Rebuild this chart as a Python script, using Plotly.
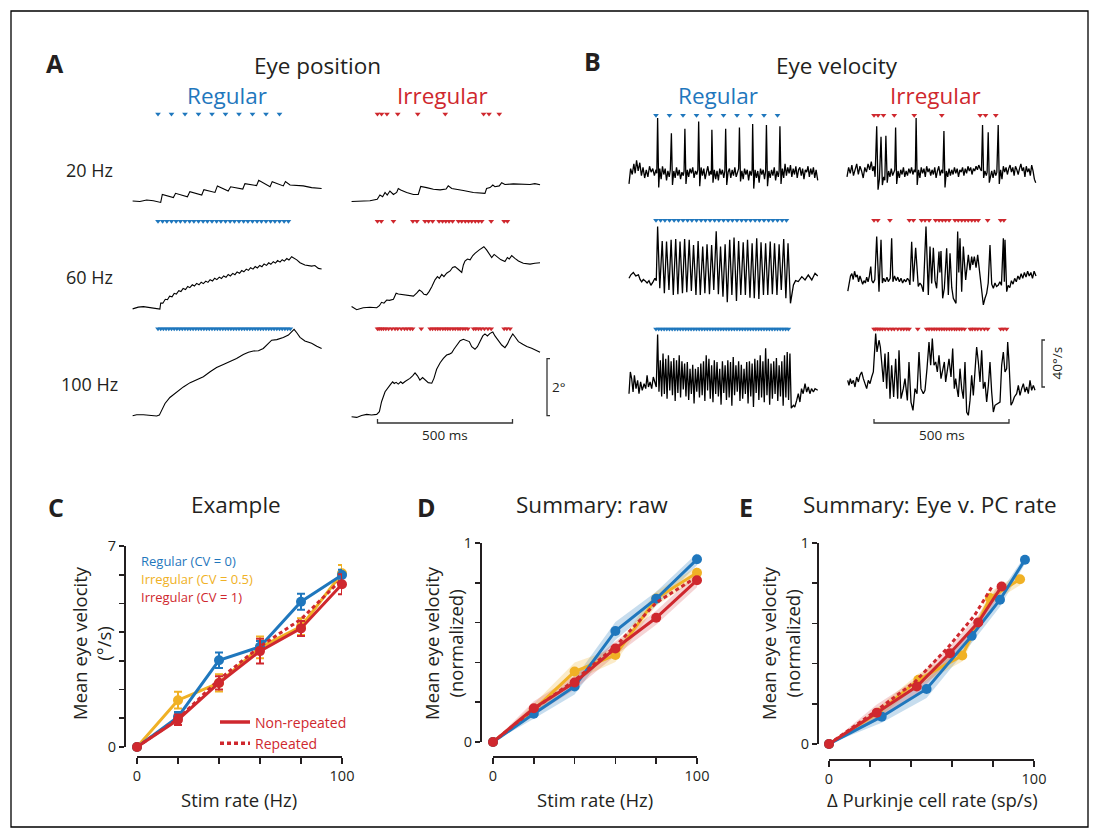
import plotly.graph_objects as go

W, H = 1099, 837
BLUE = '#1f77bd'
YELLOW = '#f0b125'
RED = '#cf282e'
INK = '#231f20'
FONT = 'Open Sans'

# ---------------- stimulation times (ms) ----------------
STIM_REG_20 = [0, 50, 100, 150, 200, 250, 300, 350, 400, 450]
STIM_REG_60 = [0, 17, 33, 50, 67, 83, 100, 117, 133, 150, 167, 183, 200, 217, 233,
               250, 267, 283, 300, 317, 333, 350, 367, 383, 400, 417, 433, 450, 467, 483]
STIM_REG_100 = [0, 10, 20, 30, 40, 50, 60, 70, 80, 90, 100, 110, 120, 130, 140, 150, 160,
                170, 180, 190, 200, 210, 220, 230, 240, 250, 260, 270, 280, 290, 300, 310,
                320, 330, 340, 350, 360, 370, 380, 390, 400, 410, 420, 430, 440, 450, 460,
                470, 480, 490]
STIM_IRR_20 = [0, 15, 35, 75, 149, 251, 393, 413, 451]
STIM_IRR_60 = [0, 14, 59, 131, 146, 176, 189, 204, 228, 241, 253, 265, 278, 300, 312, 325,
               337, 349, 362, 374, 386, 421, 469, 481]
STIM_IRR_100 = [0, 6, 14, 22, 31, 41, 53, 65, 75, 88, 100, 110, 121, 130, 162, 195, 204, 214,
                223, 232, 242, 251, 260, 269, 279, 288, 298, 306, 316, 325, 335, 356, 364, 374,
                384, 396, 409, 421, 469, 479, 491]

# ---------------- eye position traces (ms, deg) ----------------
POS_REG_20 = [(-94, 0), (-67, -0.02), (-42, 0.035), (-17, 0.01), (10, -0.05), (16, 0.23), (57, 0.12),
              (65, 0.27), (109, 0.15), (118, 0.33), (162, 0.21), (170, 0.40), (211, 0.30), (220, 0.53),
              (260, 0.35), (269, 0.50), (314, 0.42), (322, 0.61), (365, 0.54), (373, 0.73), (415, 0.50),
              (423, 0.68), (464, 0.53), (472, 0.68), (489, 0.56), (538, 0.53), (569, 0.47), (606, 0.44)]
POS_IRR_20 = [(-96, -0.02), (-65, 0), (-28, 0.01), (-1, 0.06), (9, 0.21), (19, 0.15), (28, 0.30),
              (36, 0.21), (46, 0.35), (59, 0.23), (71, 0.30), (77, 0.44), (86, 0.39), (108, 0.30),
              (133, 0.23), (151, 0.23), (160, 0.51), (182, 0.47), (207, 0.41), (232, 0.39), (254, 0.42),
              (262, 0.53), (275, 0.44), (318, 0.37), (355, 0.30), (398, 0.27), (404, 0.44), (417, 0.47),
              (427, 0.56), (435, 0.50), (451, 0.53), (460, 0.64), (472, 0.58), (503, 0.60), (540, 0.60),
              (565, 0.58), (583, 0.61), (602, 0.57)]
POS_REG_60 = [(-94, -0.02), (-73, 0.04), (-54, 0.06), (-30, 0.02), (-5, -0.02), (7, -0.03),
              (10, 0.185), (18, 0.18), (27, 0.315), (35, 0.30), (43, 0.425), (52, 0.405), (60, 0.525),
              (68, 0.50), (77, 0.615), (85, 0.585), (93, 0.695), (102, 0.66), (110, 0.765), (118, 0.725),
              (127, 0.825), (135, 0.78), (143, 0.875), (152, 0.825), (160, 0.915), (168, 0.865),
              (177, 0.955), (185, 0.91), (193, 1.005), (202, 0.96), (210, 1.055), (218, 1.005),
              (227, 1.095), (235, 1.045), (243, 1.135), (252, 1.09), (260, 1.185), (268, 1.135),
              (277, 1.225), (285, 1.18), (293, 1.275), (302, 1.23), (310, 1.325), (318, 1.28),
              (327, 1.375), (335, 1.33), (343, 1.425), (352, 1.375), (360, 1.465), (368, 1.415),
              (377, 1.505), (385, 1.46), (393, 1.555), (402, 1.505), (410, 1.595), (418, 1.545),
              (427, 1.635), (435, 1.585), (443, 1.675), (452, 1.62), (460, 1.705), (468, 1.655),
              (477, 1.745), (485, 1.695), (495, 1.81), (505, 1.76), (514, 1.70), (526, 1.60),
              (544, 1.52), (569, 1.48), (581, 1.50), (594, 1.40), (606, 1.38)]
POS_IRR_60 = [(-96, 0.06), (-77, -0.05), (-53, 0.02), (-28, 0.035), (-3, 0.02), (7, 0.09), (15, 0.21),
              (24, 0.18), (34, 0.29), (44, 0.28), (59, 0.32), (69, 0.53), (77, 0.50), (108, 0.47),
              (133, 0.43), (145, 0.53), (155, 0.64), (164, 0.585), (172, 0.49), (182, 0.47), (191, 0.585),
              (201, 0.76), (213, 1.00), (222, 1.11), (229, 1.05), (238, 1.19), (246, 1.11), (256, 1.23),
              (269, 1.31), (278, 1.43), (287, 1.46), (299, 1.37), (312, 1.26), (318, 1.52), (324, 1.66),
              (333, 1.73), (343, 1.70), (353, 1.85), (361, 1.93), (377, 2.05), (394, 2.16), (404, 2.05),
              (414, 1.89), (423, 1.78), (432, 1.89), (441, 1.81), (456, 1.71), (472, 1.64), (481, 1.78),
              (488, 1.73), (497, 1.85), (509, 1.75), (522, 1.66), (540, 1.58), (565, 1.55), (583, 1.58),
              (602, 1.60)]
POS_REG_100 = [(-94, 0), (-79, 0.035), (-54, 0.035), (-30, 0.01), (-5, -0.01), (5, 0.02), (14, 0.22),
               (26, 0.43), (44, 0.64), (69, 0.84), (94, 1.01), (119, 1.16), (143, 1.25), (168, 1.37),
               (193, 1.54), (217, 1.69), (242, 1.80), (267, 1.91), (291, 2.01), (316, 2.15), (335, 2.23),
               (353, 2.27), (372, 2.28), (390, 2.36), (409, 2.56), (421, 2.65), (440, 2.67), (464, 2.74),
               (483, 2.83), (495, 2.95), (504, 3.03), (514, 2.91), (526, 2.75), (544, 2.62), (569, 2.54),
               (588, 2.44), (606, 2.36)]
POS_IRR_100 = [(-96, -0.035), (-77, -0.06), (-59, 0.01), (-40, 0.047), (-22, 0.023), (-3, 0.047),
               (7, 0.14), (15, 0.49), (28, 0.84), (40, 1.02), (49, 1.11), (56, 1.19), (62, 1.13),
               (69, 1.17), (77, 1.11), (86, 1.19), (93, 1.13), (102, 1.20), (111, 1.25), (120, 1.31),
               (130, 1.40), (139, 1.50), (148, 1.40), (157, 1.25), (167, 1.34), (176, 1.25), (188, 1.16),
               (201, 1.14), (209, 1.31), (219, 1.63), (232, 1.86), (244, 2.01), (256, 2.13), (266, 2.16),
               (275, 2.21), (283, 2.33), (293, 2.48), (306, 2.63), (318, 2.68), (330, 2.63), (340, 2.60),
               (349, 2.42), (361, 2.33), (370, 2.42), (380, 2.60), (390, 2.80), (398, 2.87), (407, 2.80),
               (417, 2.89), (427, 2.94), (435, 2.80), (448, 2.63), (460, 2.48), (472, 2.39), (481, 2.51),
               (491, 2.71), (501, 2.87), (509, 2.77), (522, 2.60), (538, 2.51), (553, 2.43), (571, 2.37),
               (587, 2.29), (602, 2.23)]

# ---------------- eye velocity traces (ms, deg/s) ----------------
VEL_REG_20 = [(-100, -9), (-94, 4), (-88, -1), (-82, 8), (-77, 0), (-72, 11), (-66, 2), (-60, 9), (-54, -2),
              (-48, 5), (-42, -4), (-36, 3), (-30, -3), (-24, 6), (-18, 1), (-12, 4), (-6, -2), (0, 3),
              (3, 0), (6, 47), (10, -12), (14, 4), (19, -5), (24, 6), (29, -1), (34, 4), (39, -6), (44, 2),
              (49, -3), (53, 3), (57, 34), (61, -10), (66, 2), (71, -4), (76, 5), (81, -2), (86, 3), (91, -5),
              (96, 1), (101, -2), (104, 2), (107, 38), (111, -9), (116, 3), (121, -3), (126, 4), (131, 0),
              (136, 5), (141, -4), (146, 2), (151, -1), (155, 3), (158, 44), (162, -11), (167, 5), (172, -2),
              (177, 4), (182, -5), (187, 1), (192, 6), (197, -2), (202, 2), (205, -1), (207, 37), (211, -8),
              (216, 3), (221, -5), (226, 2), (231, -6), (236, 4), (241, -1), (246, 3), (251, -4), (255, 2),
              (258, 38), (262, -10), (267, 1), (272, 4), (277, -4), (282, 3), (287, -2), (292, 5), (297, -3),
              (302, 1), (306, 4), (309, 39), (313, -7), (318, 2), (323, -5), (328, 4), (333, -1), (338, 3),
              (343, -6), (348, 2), (353, -2), (356, 3), (358, 42), (362, -13), (367, 3), (372, -4), (377, 2),
              (382, -8), (387, 4), (392, -1), (397, 3), (402, -5), (406, 2), (409, 41), (413, -11), (418, 2),
              (423, -4), (428, 3), (433, -2), (438, 5), (443, -6), (448, 2), (453, -3), (456, 2), (459, 40),
              (463, -9), (468, 4), (473, -4), (478, 8), (483, -2), (488, 5), (493, 0), (498, 7), (503, -3),
              (508, 4), (513, -1), (518, 6), (523, -4), (528, 3), (533, 5), (538, -2), (543, 4), (548, -5),
              (553, 3), (558, 1), (563, 6), (568, -3), (573, 4), (578, -1), (583, 5), (588, -4), (593, 3),
              (599, -6)]
VEL_IRR_20 = [(-100, -3), (-94, 5), (-88, 0), (-82, 7), (-76, -2), (-70, 4), (-64, 8), (-58, -1), (-52, 6),
              (-46, 2), (-40, -4), (-34, 5), (-28, 1), (-22, 8), (-16, 3), (-10, 10), (-5, 2), (0, 6), (4, -3),
              (10, 40), (15, -14), (20, -5), (26, 31), (31, -10), (36, -3), (40, -6), (44, 32), (49, -8),
              (54, 2), (59, -3), (64, 4), (69, -2), (74, 1), (77, 3), (80, 39), (84, -9), (89, 2), (94, -4),
              (99, 3), (104, -1), (109, 5), (114, -3), (119, 2), (124, -2), (129, 4), (134, 0), (139, 5),
              (144, -1), (149, 3), (153, 1), (156, 47), (160, -10), (165, 3), (170, -4), (175, 5), (180, 0),
              (185, 4), (190, -3), (195, 6), (200, 1), (205, 4), (210, -2), (215, 3), (220, -1), (225, 5),
              (230, -4), (235, 2), (240, 6), (245, -2), (250, 3), (255, 0), (259, 36), (263, -12), (268, 2),
              (273, -3), (278, 4), (283, -2), (288, 3), (293, -1), (298, 5), (303, 0), (308, 4), (313, -3),
              (318, 3), (323, 1), (328, 5), (333, -2), (338, 4), (343, 0), (348, 6), (353, 2), (358, 5),
              (363, -1), (368, 4), (373, 2), (378, 6), (383, 3), (388, 7), (393, 4), (398, 2), (402, 41),
              (406, -4), (411, 2), (416, -2), (419, 1), (423, 35), (427, -8), (431, -3), (436, 2), (441, -4),
              (446, 3), (451, -2), (455, 1), (460, 41), (464, -9), (469, 3), (474, -5), (479, 6), (484, 1),
              (489, 5), (494, -1), (499, 4), (504, 7), (509, 1), (514, 5), (519, -2), (524, 6), (529, 3),
              (534, -1), (539, 4), (544, 8), (549, 2), (554, 5), (559, -3), (564, 6), (569, 1), (574, 4),
              (579, -2), (584, 7), (589, 2), (594, -5), (599, -8)]
VEL_REG_60 = [(-100, 0), (-93, 3), (-84, 5), (-75, 2), (-65, 3), (-59, -1), (-53, -3), (-47, -1), (-41, -2),
              (-33, -4), (-26, -2), (-19, -6), (-11, -3), (-4, 0), (1, -2),
              (6, 44), (14, -8.5), (23, 31.8), (31, -12.8), (39, 31.2), (48, -9.9), (56, 32.7), (64, -14.2),
              (73, 33.5), (81, -13.6), (89, 31.2), (98, -12.8), (106, 33.5), (114, -11.9), (123, 32.7),
              (131, -10.8), (139, 28.4), (148, -14.2), (156, 31.8), (164, -14.2), (173, 27), (181, -12.8),
              (189, 29), (198, -13.6), (206, 28.4), (214, -9.9), (223, 40), (231, -13.6), (239, 27),
              (248, -15.6), (256, 29), (264, -20.4), (273, 32.7), (281, -14.2), (289, 34.7), (298, -19.3),
              (306, 31.8), (314, -14.2), (323, 30.7), (331, -14.2), (339, 32.7), (348, -16.5), (356, 29.8),
              (364, -17), (373, 34), (381, -17.6), (389, 30.7), (398, -14.2), (406, 29.8), (414, -14.2),
              (423, 31.2), (431, -13.6), (439, 29.8), (448, -14.2), (456, 29), (464, -9.9), (473, 33.5),
              (481, -17), (489, 29.8), (498, -21.3),
              (509, -5.7), (517, -2), (527, -2.8), (540, 1.4), (552, -1.4), (564, 2.8), (577, -1.4), (589, 4.3),
              (599, 2)]
VEL_IRR_60 = [(-97, -11), (-92, -4), (-87, 2), (-82, 4), (-77, -1), (-72, 6), (-67, 1), (-62, 3), (-57, -3),
              (-52, 2), (-47, -1), (-42, -5), (-37, -2), (-32, -4), (-27, 1), (-22, -3), (-17, 2), (-12, 10),
              (-8, -2), (-3, -4), (3, -1), (10, 35.5), (18.5, -11.4), (26, 32.7), (31, -4), (36, 0), (42, -3),
              (48, 1), (53, -2.8), (60, 0), (65.4, 34), (70, -3), (76, 2), (82, -2), (88, 1), (94, -3), (100, 0),
              (106, -4), (112, -1), (118, -3), (124, 0), (130, -2), (133, -5.7), (139.5, 31), (145.7, -2.8),
              (154.3, 26), (164, -7), (170, -4), (176, -6), (182.7, -11.4), (192.6, 44), (201.2, -14.2),
              (207.4, 27), (213.6, -4.3), (219.8, 26), (226, -2), (232, -8.5), (240.7, 22.7), (244, 5),
              (248.1, 23.3), (254.3, -17), (260.5, -8.5), (269.1, 25.6), (275.3, -14.2), (281.5, 21.3),
              (288, -8), (293.8, -17), (303.7, -21.3), (309.9, 39.8), (314, 5), (318.5, 34), (324.7, -11.4),
              (330.9, 27), (339.5, -1.4), (349.4, 19.9), (355.6, 7), (361.7, 18.5), (366, 11.4), (371.6, 18.5),
              (378, 9), (384, 19.9), (392.6, 0), (405, -22.7), (411, -17), (417.3, -12.8), (423, -4),
              (429.6, 28.4), (436, -5), (442, -8.5), (448, -4), (454, -7), (460.5, -5.7), (466, -3), (472, -6),
              (479, 34), (482.7, -3), (485.2, 32.7), (491.4, -11.4), (497, -6), (503, -8), (509, -2), (515, -5),
              (521, 0), (527, -3), (533, 2), (539, -1), (545, 4), (551, 0), (557, 5), (563, 1), (569, 6),
              (575, 2), (581, 5), (587, 0), (593, 6), (600, 2)]
VEL_REG_100 = [(-100, -5.7), (-95, 12.8), (-90, 7), (-85, -4.3), (-80, 10), (-74, -1.4), (-68, 5.7),
               (-63, -5.7), (-57, 4.3), (-51, -2.8), (-44, 2.8), (-38, -1.4), (-33, 10), (-28, 0), (-22, 4.3),
               (-16, -1.4), (-10, 8.5), (-4, 2.8), (1, 0),
               (6, 44.6), (11, -4), (16, 22.7), (21, -8), (26, 28.4), (31, -6), (36, 24), (41, -10), (46, 27),
               (51, -3), (56, 21.9), (61, -7), (66, 24.7), (71, -12), (76, 22.7), (81, -5), (86, 27), (91, -9),
               (96, 21.9), (101, -2), (106, 19.9), (111, -8), (116, 21.3), (121, -11), (126, 15.6), (131, -6),
               (136, 19), (141, -14), (146, 15.6), (151, -4), (156, 17), (161, -9), (166, 19.9), (171, -7),
               (176, 21.9), (181, -12), (186, 27), (191, -3), (196, 24), (201, -10), (206, 18.5), (211, -13),
               (216, 22.7), (221, -6), (226, 21.3), (231, -8), (236, 15.6), (241, -15), (246, 21.9), (251, -5),
               (256, 18.5), (261, -11), (266, 22.7), (271, -9), (276, 21.3), (281, -16), (286, 25.6), (291, -7),
               (296, 18.5), (301, -4), (306, 21.9), (311, -12), (316, 19), (321, -10), (326, 15.6), (331, -6),
               (336, 21.3), (341, -14), (346, 21.9), (351, -8), (356, 19.9), (361, -17), (366, 24), (371, -5),
               (376, 22.7), (381, -11), (386, 27), (391, -9), (396, 21.9), (401, -13), (406, 33), (411, -7),
               (416, 24), (421, -15), (426, 19.9), (431, -10), (436, 21.9), (441, -6), (446, 24.7), (451, -12),
               (456, 18.5), (461, -8), (466, 21.9), (471, -16), (476, 27), (481, -9), (486, 29.8), (491, -11),
               (496, 28.4), (501, -18),
               (509, -15.6), (514, -17), (521, -11.4), (527, -5.7), (533, -12.8), (539, -1.4), (545, -5.7),
               (552, 2.8), (558, -4.3), (564, 0), (570, -5.7), (576, -1.4), (583, -4.3), (589, -1.4), (599, -2.8)]
VEL_IRR_100 = [(-97.5, 5.7), (-92.6, 1.4), (-87.7, 7.1), (-82.7, 2.8), (-76.5, 5.7), (-70.4, 0), (-64.2, 8.5),
               (-58, 4.3), (-51.9, 10), (-45.7, 12.8), (-39.5, 7.1), (-33.3, 2.8), (-27.2, -1.4), (-21, 5.7),
               (-14.8, 2.8), (-8.6, 8.5), (-2.5, 12.8), (6.2, 45.4), (11.1, 29.8), (18.5, 39.8), (23.5, 34),
               (28.4, 21.3), (34.6, 4.3), (40.7, 28.4), (46.9, -1.4), (53.1, 29.8), (59.3, -9.9), (65.4, 18.5),
               (72.8, -8.5), (80.2, 24), (87.7, -9.9), (92.6, 31.2), (100, -9.9), (108.6, -1.4), (114.8, 7.1),
               (123.5, -11.4), (129.6, 21.3), (137, -12.8), (144.4, -19.9), (151.9, -1.4), (159.3, -5.7),
               (166.7, 29.8), (174, -1.4), (182.7, -5.7), (188.9, -2.8), (196.3, 15.6), (203.7, 38.3),
               (209.9, 18.5), (216, 41.2), (222.2, 18.5), (228.4, 21.3), (234.6, 12.8), (240.7, 27),
               (248.1, 7.1), (253.1, 14.2), (260.5, 21.3), (265.4, 4.3), (271.6, 12.8), (277.8, 24),
               (285.2, 8.5), (291.4, 32.7), (297.5, -1.4), (302.5, 7.1), (307.4, -1.4), (312.3, -8.5),
               (318.5, 15.6), (324.7, -1.4), (330.9, -9.9), (337, 21.3), (343.2, -21.3), (349.4, -24.1),
               (355.6, -11.4), (361.7, 9.9), (367.9, -7.1), (374, 12.8), (380.2, 34), (386.4, 21.3),
               (392.6, 4.3), (398.8, 31.2), (404.9, -1.4), (411.1, 4.3), (417.3, -12.8), (423.5, 1.4),
               (429.6, 21.3), (435.8, -4.3), (442, -21.3), (448.1, -15.6), (458, -14.2), (466.7, -12.8),
               (472.8, 18.5), (479, 29.8), (485.2, 12.8), (491.4, 15.6), (495.1, 38.3), (500, 21.3),
               (507.4, -15.6), (513.6, -12.8), (519.8, -8.5), (528.4, -5.7), (534.6, 1.4), (540.7, -7.1),
               (546.9, -1.4), (553.1, 2.8), (559.3, -4.3), (565.4, 0), (571.6, -5.7), (577.8, 5.7),
               (584, -2.8), (590.1, 1.4), (596.3, -2.8)]

SCALE_TIME_MS = 500
SCALE_POS_DEG = 2
SCALE_VEL_DPS = 40

# ---------------- panel C: example ----------------
C_RATE = [0, 20, 40, 60, 80, 100]
C_REG = [0, 1.05, 3.02, 3.49, 5.06, 5.99]
C_REG_ERR = [0, 0.17, 0.27, 0.2, 0.28, 0.18]
C_IRR05 = [0, 1.63, 2.23, 3.47, 4.19, 6.05]
C_IRR05_ERR = [0, 0.29, 0.3, 0.38, 0.29, 0.29]
C_IRR1 = [0, 0.95, 2.23, 3.34, 4.13, 5.67]
C_IRR1_ERR = [0, 0.18, 0.23, 0.43, 0.26, 0.35]
C_IRR1_REP = [0, 0.98, 2.35, 3.5, 4.45, 5.85]

# ---------------- panel D: summary raw ----------------
D_RATE = [0, 20, 40, 60, 80, 100]
D_REG = [0, 0.142, 0.279, 0.558, 0.72, 0.918]
D_REG_SEM = [0, 0.025, 0.04, 0.045, 0.035, 0.03]
D_IRR05 = [0, 0.162, 0.354, 0.437, 0.721, 0.85]
D_IRR05_SEM = [0, 0.03, 0.045, 0.035, 0.035, 0.03]
D_IRR1 = [0, 0.17, 0.299, 0.47, 0.624, 0.813]
D_IRR1_SEM = [0, 0.035, 0.035, 0.035, 0.035, 0.035]
D_IRR1_REP = [0, 0.165, 0.31, 0.48, 0.70, 0.83]

# ---------------- panel E: eye velocity vs PC rate ----------------
E_REG_X = [0, 25.7, 47.6, 69.6, 83.4, 95.6]
E_REG_Y = [0, 0.136, 0.274, 0.538, 0.718, 0.917]
E_REG_SEM = [0, 0.03, 0.045, 0.035, 0.035, 0.02]
E_IRR05_X = [0, 24, 43.6, 65, 78.5, 93.2]
E_IRR05_Y = [0, 0.156, 0.32, 0.44, 0.726, 0.82]
E_IRR05_SEM = [0, 0.025, 0.03, 0.03, 0.03, 0.03]
E_IRR1_X = [0, 23.3, 42.8, 59, 72.8, 84.2]
E_IRR1_Y = [0, 0.156, 0.286, 0.452, 0.605, 0.784]
E_IRR1_SEM = [0, 0.04, 0.04, 0.035, 0.035, 0.03]
E_IRR1_REP_X = [0, 23, 42, 58, 71, 80]
E_IRR1_REP_Y = [0, 0.165, 0.31, 0.48, 0.64, 0.79]

RATE_TICKS = [0, 20, 40, 60, 80, 100]
C_YTICKS = [0, 1, 2, 3, 4, 5, 6, 7]
NORM_TICKS = [0, 0.2, 0.4, 0.6, 0.8, 1]


# ================= layout helpers =================
def fx(px):
    return px / W


def fy(py):
    return 1 - py / H


def axn(i):
    return ('xaxis' if i == 1 else f'xaxis{i}'), ('yaxis' if i == 1 else f'yaxis{i}'), \
           ('x' if i == 1 else f'x{i}'), ('y' if i == 1 else f'y{i}')


fig = go.Figure()
layout = {}
annotations = []


def ann(text, px, py, size, color=INK, xanchor='center', yanchor='middle', angle=0):
    annotations.append(dict(x=fx(px), y=fy(py), xref='paper', yref='paper', text=text,
                            showarrow=False, font=dict(size=size, color=color, family=FONT),
                            xanchor=xanchor, yanchor=yanchor, textangle=angle))


# trace-cell geometry (pixels)
SX = 0.27          # px per ms
SY_A = 28.5        # px per deg
SY_B = 1.175       # px per deg/s
TMIN, TMAX = -110, 690
UP, DOWN = 125, 45
A_REG_X0, A_IRR_X0, B_REG_X0, B_IRR_X0 = 158, 377.5, 656, 874
A_ROW_YB = [201, 308.3, 415.7]
B_ROW_YB = [173.3, 278.3, 387]
TRI_PX_A, TRI_PX_B = 87, 58

cells = [
    ('A', A_REG_X0, A_ROW_YB[0], SY_A, POS_REG_20, STIM_REG_20, BLUE),
    ('A', A_IRR_X0, A_ROW_YB[0], SY_A, POS_IRR_20, STIM_IRR_20, RED),
    ('A', A_REG_X0, A_ROW_YB[1], SY_A, POS_REG_60, STIM_REG_60, BLUE),
    ('A', A_IRR_X0, A_ROW_YB[1], SY_A, POS_IRR_60, STIM_IRR_60, RED),
    ('A', A_REG_X0, A_ROW_YB[2], SY_A, POS_REG_100, STIM_REG_100, BLUE),
    ('A', A_IRR_X0, A_ROW_YB[2], SY_A, POS_IRR_100, STIM_IRR_100, RED),
    ('B', B_REG_X0, B_ROW_YB[0], SY_B, VEL_REG_20, STIM_REG_20, BLUE),
    ('B', B_IRR_X0, B_ROW_YB[0], SY_B, VEL_IRR_20, STIM_IRR_20, RED),
    ('B', B_REG_X0, B_ROW_YB[1], SY_B, VEL_REG_60, STIM_REG_60, BLUE),
    ('B', B_IRR_X0, B_ROW_YB[1], SY_B, VEL_IRR_60, STIM_IRR_60, RED),
    ('B', B_REG_X0, B_ROW_YB[2], SY_B, VEL_REG_100, STIM_REG_100, BLUE),
    ('B', B_IRR_X0, B_ROW_YB[2], SY_B, VEL_IRR_100, STIM_IRR_100, RED),
]

for i, (panel, x0, yb, sy, trace, stim, col) in enumerate(cells, start=1):
    xa, ya, xr, yr = axn(i)
    layout[xa] = dict(domain=[fx(x0 + SX * TMIN), fx(x0 + SX * TMAX)], range=[TMIN, TMAX],
                      visible=False, fixedrange=True, anchor=yr, automargin=False)
    layout[ya] = dict(domain=[fy(yb + DOWN), fy(yb - UP)], range=[-DOWN / sy, UP / sy],
                      visible=False, fixedrange=True, anchor=xr, automargin=False)
    t, v = zip(*trace)
    fig.add_trace(go.Scatter(x=list(t), y=list(v), xaxis=xr, yaxis=yr, mode='lines',
                             line=dict(color='black', width=1.1 if panel == 'A' else 1.3),
                             showlegend=False, hoverinfo='skip', cliponaxis=False))
    tri_y = (TRI_PX_A if panel == 'A' else TRI_PX_B) / sy
    fig.add_trace(go.Scatter(x=stim, y=[tri_y] * len(stim), xaxis=xr, yaxis=yr, mode='markers',
                             marker=dict(symbol='triangle-down', size=5, color=col, line=dict(width=0)),
                             showlegend=False, hoverinfo='skip', cliponaxis=False))


# scale bars (in data units of the bottom irregular cells)
def scale_bars(i, sy, vbar_px, tbar_px, vval, label, rotate):
    _, _, xr, yr = axn(i)
    x0, yb = cells[i - 1][1], cells[i - 1][2]
    tb = (vbar_px - x0) / SX
    tick = 3 / SX
    fig.add_trace(go.Scatter(x=[tb + tick, tb, tb, tb + tick], y=[vval, vval, 0, 0], xaxis=xr, yaxis=yr,
                             mode='lines', line=dict(color='#333333', width=1.3),
                             showlegend=False, hoverinfo='skip', cliponaxis=False))
    ybar = -(tbar_px - yb) / sy
    ytick = -(tbar_px - 4 - yb) / sy
    fig.add_trace(go.Scatter(x=[0, 0, SCALE_TIME_MS, SCALE_TIME_MS], y=[ytick, ybar, ybar, ytick],
                             xaxis=xr, yaxis=yr, mode='lines', line=dict(color='#333333', width=1.3),
                             showlegend=False, hoverinfo='skip', cliponaxis=False))
    annotations.append(dict(x=SCALE_TIME_MS / 2, y=ybar, xref=xr, yref=yr, text=f'{SCALE_TIME_MS} ms',
                            showarrow=False, yanchor='top', yshift=-1,
                            font=dict(size=13.5, color=INK, family=FONT)))
    annotations.append(dict(x=tb, y=vval / 2, xref=xr, yref=yr, text=label, showarrow=False,
                            textangle=-90 if rotate else 0, xanchor='left', xshift=3,
                            font=dict(size=13.5, color=INK, family=FONT)))


scale_bars(6, SY_A, 547, 423, SCALE_POS_DEG, f'{SCALE_POS_DEG}°', False)
scale_bars(12, SY_B, 1042, 423, SCALE_VEL_DPS, f'{SCALE_VEL_DPS}°/s', True)


# ================= panels C, D, E =================
def line_axes(i, xdom, ydom, xline_py, yline_px, yrange, yticks, ytext):
    xa, ya, xr, yr = axn(i)
    common = dict(showgrid=False, zeroline=False, showline=True, linewidth=2, linecolor=INK,
                  ticks='outside', tickwidth=1.6, tickcolor=INK, fixedrange=True, automargin=False,
                  tickfont=dict(size=14.5, color=INK, family=FONT))
    layout[xa] = dict(domain=[fx(xdom[0]), fx(xdom[1])], range=[0, 100], anchor='free',
                      position=fy(xline_py), tickvals=RATE_TICKS,
                      ticktext=['0', '', '', '', '', '100'], ticklen=6, **common)
    layout[ya] = dict(domain=[fy(ydom[1]), fy(ydom[0])], range=yrange, anchor='free',
                      position=fx(yline_px), tickvals=yticks, ticktext=ytext, ticklen=5, **common)
    return xr, yr


def band(xr, yr, xs, ys, sem, rgba):
    up = [y + s for y, s in zip(ys, sem)]
    lo = [y - s for y, s in zip(ys, sem)]
    fig.add_trace(go.Scatter(x=list(xs) + list(xs)[::-1], y=up + lo[::-1], xaxis=xr, yaxis=yr,
                             fill='toself', fillcolor=rgba, line=dict(width=0), mode='lines',
                             showlegend=False, hoverinfo='skip', cliponaxis=False))


def series(xr, yr, xs, ys, col, err=None, dotted=False, markers=True):
    kw = {}
    if err is not None:
        kw['error_y'] = dict(type='data', array=err, color=col, thickness=2, width=4)
    fig.add_trace(go.Scatter(x=xs, y=ys, xaxis=xr, yaxis=yr,
                             mode='lines+markers' if markers else 'lines',
                             line=dict(color=col, width=3, dash='4px,3px' if dotted else 'solid'),
                             marker=dict(size=10, color=col), showlegend=False, hoverinfo='skip',
                             cliponaxis=False, **kw))


# C
xr, yr = line_axes(13, (137, 342), (546, 747), 757, 125, [0, 7], C_YTICKS,
                   ['0', '', '', '', '', '', '', '7'])
series(xr, yr, C_RATE, C_IRR05, YELLOW, C_IRR05_ERR)
series(xr, yr, C_RATE, C_REG, BLUE, C_REG_ERR)
series(xr, yr, C_RATE, C_IRR1_REP, RED, dotted=True, markers=False)
series(xr, yr, C_RATE, C_IRR1, RED, C_IRR1_ERR)
fig.add_trace(go.Scatter(x=[None], y=[None], xaxis=xr, yaxis=yr, mode='lines', name='Non-repeated',
                         line=dict(color=RED, width=3.5), showlegend=True))
fig.add_trace(go.Scatter(x=[None], y=[None], xaxis=xr, yaxis=yr, mode='lines', name='Repeated',
                         line=dict(color=RED, width=3.5, dash='4px,3px'), showlegend=True))

# D
xr, yr = line_axes(14, (493, 697), (543, 742), 757, 481, [0, 1], NORM_TICKS,
                   ['0', '', '', '', '', '1'])
band(xr, yr, D_RATE, D_REG, D_REG_SEM, 'rgba(31,119,189,0.25)')
band(xr, yr, D_RATE, D_IRR05, D_IRR05_SEM, 'rgba(240,177,37,0.25)')
band(xr, yr, D_RATE, D_IRR1, D_IRR1_SEM, 'rgba(207,40,46,0.2)')
series(xr, yr, D_RATE, D_IRR05, YELLOW)
series(xr, yr, D_RATE, D_REG, BLUE)
series(xr, yr, D_RATE, D_IRR1_REP, RED, dotted=True, markers=False)
series(xr, yr, D_RATE, D_IRR1, RED)

# E
xr, yr = line_axes(15, (829, 1034), (543, 744), 760, 818, [0, 1], NORM_TICKS,
                   ['0', '', '', '', '', '1'])
band(xr, yr, E_REG_X, E_REG_Y, E_REG_SEM, 'rgba(31,119,189,0.25)')
band(xr, yr, E_IRR05_X, E_IRR05_Y, E_IRR05_SEM, 'rgba(240,177,37,0.25)')
band(xr, yr, E_IRR1_X, E_IRR1_Y, E_IRR1_SEM, 'rgba(207,40,46,0.2)')
series(xr, yr, E_IRR05_X, E_IRR05_Y, YELLOW)
series(xr, yr, E_REG_X, E_REG_Y, BLUE)
series(xr, yr, E_IRR1_REP_X, E_IRR1_REP_Y, RED, dotted=True, markers=False)
series(xr, yr, E_IRR1_X, E_IRR1_Y, RED)

# ================= text =================
ann('<b>A</b>', 55, 63, 25)
ann('<b>B</b>', 592, 61, 25)
ann('<b>C</b>', 56, 507, 25)
ann('<b>D</b>', 426, 507, 25)
ann('<b>E</b>', 746, 507, 25)
ann('Eye position', 317, 65, 22.5)
ann('Eye velocity', 837, 65, 22.5)
ann('Regular', 227, 95, 22.5, BLUE)
ann('Irregular', 442, 95, 22.5, RED)
ann('Regular', 718, 95, 22.5, BLUE)
ann('Irregular', 935, 95, 22.5, RED)
ann('20 Hz', 89, 170, 18)
ann('60 Hz', 89, 277, 18)
ann('100 Hz', 89, 384, 18)
ann('Example', 236, 505, 22.5)
ann('Summary: raw', 592, 505, 22.5)
ann('Summary: Eye v. PC rate', 930, 505, 22.5)
ann('Stim rate (Hz)', 239, 799, 18.5)
ann('Stim rate (Hz)', 595, 799, 18.5)
ann('Δ Purkinje cell rate (sp/s)', 932, 799, 18.5)
ann('Mean eye velocity<br>(°/s)', 91, 643, 18.5, angle=-90)
ann('Mean eye velocity<br>(normalized)', 443, 643, 18.5, angle=-90)
ann('Mean eye velocity<br>(normalized)', 780, 643, 18.5, angle=-90)
ann('Regular (CV = 0)', 139, 561, 13, BLUE, xanchor='left')
ann('Irregular (CV = 0.5)', 139, 579, 13, YELLOW, xanchor='left')
ann('Irregular (CV = 1)', 139, 597, 13, RED, xanchor='left')

layout.update(
    width=W, height=H, margin=dict(l=0, r=0, t=0, b=0, pad=0, autoexpand=False),
    paper_bgcolor='white', plot_bgcolor='rgba(0,0,0,0)',
    font=dict(family=FONT, color=INK),
    annotations=annotations,
    showlegend=True,
    legend=dict(x=fx(215), y=fy(733), xanchor='left', yanchor='middle', bgcolor='rgba(0,0,0,0)',
                font=dict(size=14, color=RED, family=FONT), itemwidth=30, tracegroupgap=0,
                borderwidth=0),
    shapes=[dict(type='rect', xref='paper', yref='paper', x0=fx(11), x1=fx(1088), y0=fy(827), y1=fy(11),
                 line=dict(color='black', width=1.3))],
)
fig.update_layout(**layout)
fig.write_html('out.html', config={'displayModeBar': False, 'staticPlot': True},
               post_script="document.body.style.margin='0';document.body.style.overflow='hidden';")
